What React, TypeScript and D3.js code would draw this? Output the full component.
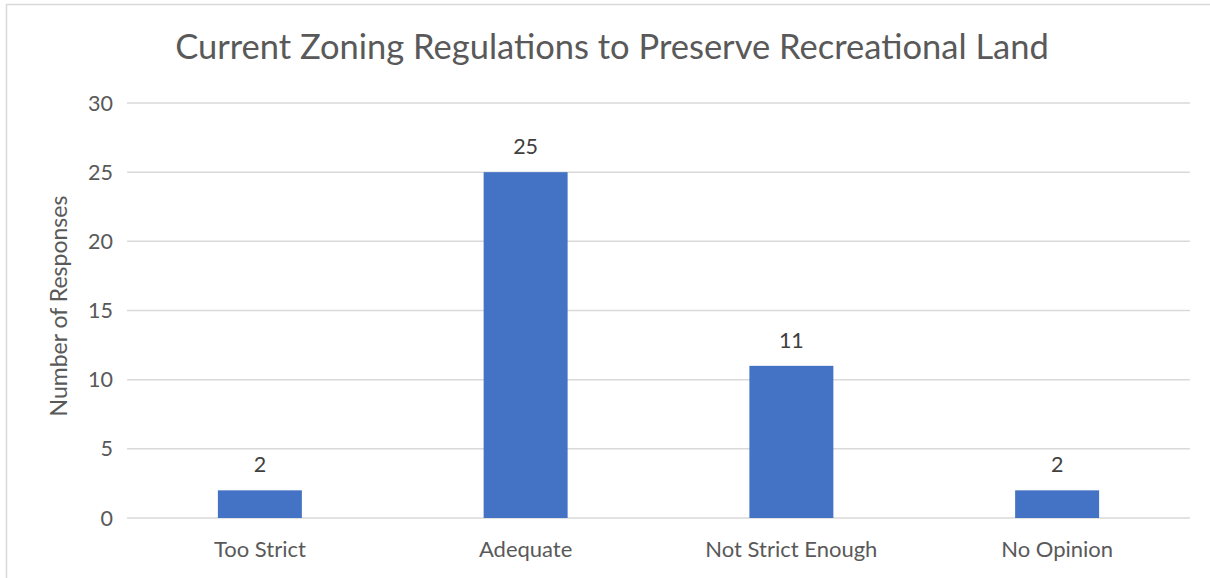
import React from "react";
import * as d3 from "d3";

const categories = ["Too Strict", "Adequate", "Not Strict Enough", "No Opinion"];
const values = [2, 25, 11, 2];
const yTicks = [0, 5, 10, 15, 20, 25, 30];
const title = "Current Zoning Regulations to Preserve Recreational Land";
const yAxisTitle = "Number of Responses";

export default function App() {
  const W = 1210, H = 578;
  const left = 127, right = 1190, top = 103, bottom = 518;
  const x = d3.scaleBand<string>().domain(categories).range([left, right]).paddingInner(0.684).paddingOuter(0.342);
  const y = d3.scaleLinear().domain([0, 30]).range([bottom, top]);
  const font = "Lato, sans-serif";
  return (
    <svg width={W} height={H} style={{ position: "absolute", left: 0, top: 0 }}>
      <rect x={0} y={0} width={W} height={H} fill="#fff" />
      <rect x={6.5} y={4.5} width={W + 10} height={H + 10} fill="#fff" stroke="#d9d9d9" strokeWidth={1.5} />
      <text x={612} y={59} textAnchor="middle" fontFamily={font} fontSize={34.5} fill="#595959">{title}</text>
      {yTicks.map((t) => (
        <g key={t}>
          <line x1={left} x2={right} y1={y(t)} y2={y(t)} stroke="#d9d9d9" strokeWidth={1.5} />
          <text x={113} y={y(t)} dy="0.35em" textAnchor="end" fontFamily={font} fontSize={21.5} fill="#595959">{t}</text>
        </g>
      ))}
      <text transform={`translate(58.5,306) rotate(-90)`} textAnchor="middle" dy="0.35em" fontFamily={font} fontSize={23} fill="#595959">{yAxisTitle}</text>
      {categories.map((c, i) => (
        <g key={c}>
          <rect x={x(c)} y={y(values[i])} width={x.bandwidth()} height={y(0) - y(values[i])} fill="#4472c4" />
          <text x={x(c)! + x.bandwidth() / 2} y={y(values[i]) - 18} textAnchor="middle" fontFamily={font} fontSize={21.5} fill="#404040">{values[i]}</text>
          <text x={x(c)! + x.bandwidth() / 2} y={557} textAnchor="middle" fontFamily={font} fontSize={22} fill="#595959">{c}</text>
        </g>
      ))}
    </svg>
  );
}
